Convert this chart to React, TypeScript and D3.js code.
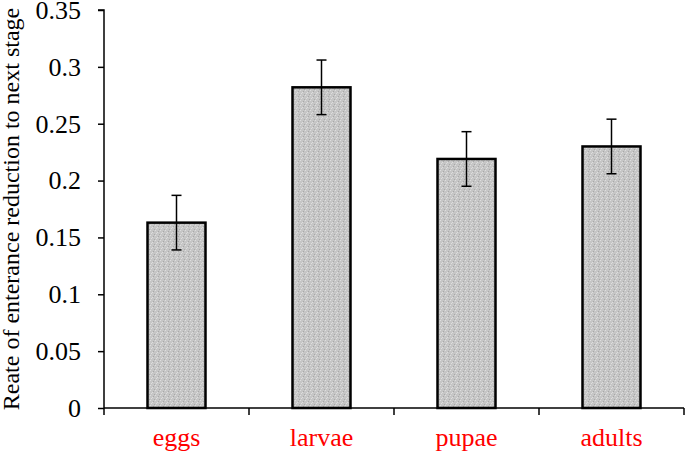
import * as d3 from "d3";
import { useRef, useEffect } from "react";

const categories = ["eggs", "larvae", "pupae", "adults"];
const values = [0.163, 0.282, 0.219, 0.23];
const errors = [0.024, 0.024, 0.024, 0.024];
const yTicks = [0, 0.05, 0.1, 0.15, 0.2, 0.25, 0.3, 0.35];
const yLabel = "Reate of enterance reduction to next stage";

export default function App() {
  const svgRef = useRef<SVGSVGElement>(null);
  const width = 685;
  const height = 453;
  const marginLeft = 104;
  const marginRight = 1;
  const marginTop = 10;
  const marginBottom = 45;

  useEffect(() => {
    const svg = d3.select(svgRef.current);
    svg.selectAll("*").remove();

    const x = d3
      .scaleBand()
      .domain(categories)
      .range([marginLeft, width - marginRight])
      .paddingInner(0.6)
      .paddingOuter(0.3);
    const y = d3
      .scaleLinear()
      .domain([0, 0.35])
      .range([height - marginBottom, marginTop]);

    // stipple texture for bars
    const defs = svg.append("defs");
    const pat = defs
      .append("pattern")
      .attr("id", "stipple")
      .attr("width", 5)
      .attr("height", 5)
      .attr("patternUnits", "userSpaceOnUse");
    pat.append("rect").attr("width", 5).attr("height", 5).attr("fill", "#c6c6c6");
    [[0, 0], [3, 1], [1, 3], [4, 4], [2, 2]].forEach(([px, py], i) => {
      pat
        .append("rect")
        .attr("x", px)
        .attr("y", py)
        .attr("width", 1)
        .attr("height", 1)
        .attr("fill", i % 2 ? "#a8a8a8" : "#dedede");
    });

    const font = "'Liberation Serif', 'Times New Roman', serif";

    // y axis
    const yAxis = svg
      .append("g")
      .attr("transform", `translate(${marginLeft},0)`)
      .call(
        d3
          .axisLeft(y)
          .tickValues(yTicks)
          .tickSize(6)
          .tickPadding(17)
          .tickFormat((d) => String(+d))
      );
    yAxis.selectAll("path,line").attr("stroke", "#000").attr("stroke-width", 1.5);
    yAxis.select(".domain").attr("d", `M-6,${marginTop}H0V${y(0)}`);
    yAxis
      .selectAll("text")
      .attr("font-family", font)
      .attr("font-size", 26)
      .attr("fill", "#000");

    // x axis: ticks sit at the category boundaries
    const x0 = marginLeft;
    const x1 = width - marginRight;
    const bounds = [
      x0,
      ...categories.slice(1).map((c) => (x(c) as number) - (x.step() - x.bandwidth()) / 2),
      x1,
    ];
    const xg = svg.append("g");
    xg.append("line")
      .attr("x1", x0)
      .attr("x2", x1)
      .attr("y1", y(0))
      .attr("y2", y(0))
      .attr("stroke", "#000")
      .attr("stroke-width", 1.5);
    xg.selectAll("line.tick")
      .data(bounds)
      .join("line")
      .attr("class", "tick")
      .attr("x1", (d) => d)
      .attr("x2", (d) => d)
      .attr("y1", y(0))
      .attr("y2", y(0) + 7)
      .attr("stroke", "#000")
      .attr("stroke-width", 1.5);
    xg.selectAll("text")
      .data(categories)
      .join("text")
      .attr("x", (d) => (x(d) as number) + x.bandwidth() / 2)
      .attr("y", y(0) + 38)
      .attr("text-anchor", "middle")
      .attr("font-family", font)
      .attr("font-size", 26)
      .attr("fill", "#ff0000")
      .text((d) => d);

    // bars
    svg
      .append("g")
      .selectAll("rect")
      .data(values)
      .join("rect")
      .attr("x", (d, i) => x(categories[i]) as number)
      .attr("y", (d) => y(d))
      .attr("width", x.bandwidth())
      .attr("height", (d) => y(0) - y(d))
      .attr("fill", "url(#stipple)")
      .attr("stroke", "#000")
      .attr("stroke-width", 2.5);

    // error bars
    const eg = svg.append("g").attr("stroke", "#000").attr("stroke-width", 1.5);
    values.forEach((v, i) => {
      const cx = (x(categories[i]) as number) + x.bandwidth() / 2;
      const hi = y(v + errors[i]);
      const lo = y(v - errors[i]);
      eg.append("line").attr("x1", cx).attr("x2", cx).attr("y1", hi).attr("y2", lo);
      eg.append("line").attr("x1", cx - 5).attr("x2", cx + 5).attr("y1", hi).attr("y2", hi);
      eg.append("line").attr("x1", cx - 5).attr("x2", cx + 5).attr("y1", lo).attr("y2", lo);
    });

    // y label
    svg
      .append("text")
      .attr("transform", `translate(19,${(marginTop + y(0)) / 2}) rotate(-90)`)
      .attr("text-anchor", "middle")
      .attr("font-family", font)
      .attr("font-size", 24)
      .attr("fill", "#000")
      .text(yLabel);
  }, []);

  return (
    <svg
      ref={svgRef}
      width={width}
      height={height}
      style={{ position: "absolute", left: 0, top: 0, background: "#fff" }}
    />
  );
}
